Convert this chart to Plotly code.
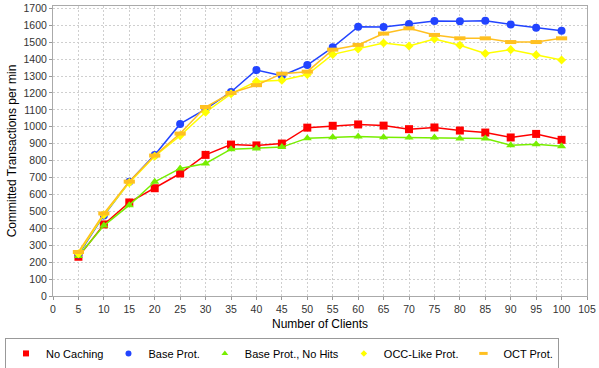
import plotly.graph_objects as go

clients = [5, 10, 15, 20, 25, 30, 35, 40, 45, 50, 55, 60, 65, 70, 75, 80, 85, 90, 95, 100]

no_caching = [232, 423, 553, 637, 724, 834, 895, 890, 901, 995, 1006, 1014, 1007, 986, 996, 978, 966, 937, 958, 923]
base_prot = [245, 476, 675, 834, 1017, 1104, 1206, 1336, 1302, 1365, 1470, 1592, 1590, 1608, 1626, 1624, 1627, 1605, 1585, 1568]
base_no_hits = [236, 416, 537, 675, 754, 783, 868, 872, 880, 933, 939, 943, 939, 937, 937, 931, 931, 891, 897, 885]
occ_like = [250, 480, 670, 826, 948, 1086, 1195, 1268, 1275, 1309, 1428, 1460, 1495, 1478, 1519, 1482, 1433, 1456, 1425, 1395]
oct_prot = [260, 488, 676, 830, 960, 1117, 1200, 1246, 1314, 1326, 1456, 1484, 1551, 1582, 1543, 1523, 1523, 1501, 1501, 1523]

series_names = ["No Caching", "Base Prot.", "Base Prot., No Hits", "OCC-Like Prot.", "OCT Prot."]
series_values = [no_caching, base_prot, base_no_hits, occ_like, oct_prot]
colors = ["#ff0000", "#2244ff", "#77ee00", "#ffff00", "#ffc020"]
symbols = ["square", "circle", "triangle-up", "diamond", "line-ew"]
sizes = [8, 8, 8, 7, 8]

fig = go.Figure()
for name, vals, c, s, sz in zip(series_names, series_values, colors, symbols, sizes):
    mline = dict(width=4, color=c) if s == "line-ew" else dict(width=0)
    fig.add_trace(go.Scatter(
        x=clients, y=vals, mode="lines+markers", name=name,
        line=dict(color=c, width=1.5),
        marker=dict(symbol=s, size=sz, color=c, line=mline),
        showlegend=False,
    ))
for name, c, s, sz in zip(series_names, colors, symbols, sizes):
    mline = dict(width=3, color=c) if s == "line-ew" else dict(width=0)
    fig.add_trace(go.Scatter(
        x=[None], y=[None], mode="markers", name=name,
        marker=dict(symbol=s, size=sz - 2 if s != "line-ew" else 6, color=c, line=mline),
        showlegend=True,
    ))

font = "Liberation Sans, Arial, sans-serif"
fig.update_layout(
    width=599, height=368,
    margin=dict(l=53, r=12, t=6, b=72, autoexpand=False),
    paper_bgcolor="white", plot_bgcolor="white",
    font=dict(family=font, size=11, color="#333333"),
    showlegend=True,
    legend=dict(
        orientation="h", x=-0.0899, xanchor="left", y=-0.198, yanchor="middle",
        xref="paper", yref="paper",
        bordercolor="#999999", borderwidth=1, bgcolor="white",
        font=dict(family=font, size=11, color="#000000"),
        itemwidth=30, tracegroupgap=0,
    ),
    xaxis=dict(
        range=[0, 105], tickmode="linear", tick0=0, dtick=5,
        showgrid=True, gridcolor="#cfcfcf", griddash="2px,2px", gridwidth=1,
        showline=True, linecolor="#aaaaaa", linewidth=1, mirror=True,
        ticks="outside", ticklen=3, tickcolor="#999999",
        zeroline=False, automargin=False, ticklabeloverflow="allow",
        title=dict(text="Number of Clients", font=dict(size=12, color="#000000"), standoff=6),
        tickfont=dict(size=10.5, color="#333333"),
    ),
    yaxis=dict(
        range=[0, 1714], tickmode="linear", tick0=0, dtick=100,
        showgrid=True, gridcolor="#cfcfcf", griddash="2px,2px", gridwidth=1,
        showline=True, linecolor="#aaaaaa", linewidth=1, mirror=True,
        ticks="outside", ticklen=3, tickcolor="#999999",
        zeroline=False, automargin=False,
        title=dict(text="Committed Transactions per min", font=dict(size=12, color="#000000"), standoff=4),
        tickfont=dict(size=10.5, color="#333333"),
    ),
)

fig.write_html("out.html", config={"displayModeBar": False},
               post_script="document.body.style.margin='0';")
